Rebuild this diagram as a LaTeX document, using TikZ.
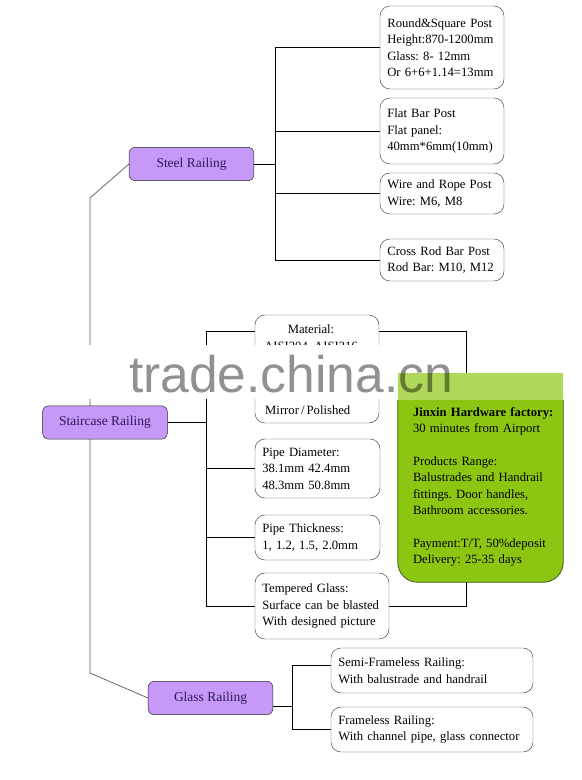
\documentclass[tikz,border=0pt]{standalone}
\usepackage{fontspec}
\setmainfont{Liberation Serif}
\setsansfont{Liberation Sans}
\usepackage{tikz}
\usetikzlibrary{positioning, calc, backgrounds}
\definecolor{RailPurple}{RGB}{198,152,248}
\definecolor{RailText}{RGB}{45,25,85}
\definecolor{FactoryGreen}{RGB}{141,198,18}
\definecolor{FactoryEdge}{RGB}{55,80,10}
\definecolor{BoxEdge}{RGB}{60,60,60}
\newcommand{\specfont}{\fontsize{10.8}{14}\selectfont\frenchspacing}

\begin{document}
\begin{tikzpicture}[x=0.03cm, y=-0.03cm,
    railbox/.style={draw=black!85, fill=RailPurple, rounded corners=0.18cm, text=RailText,
      font=\fontsize{11.5}{13}\selectfont, minimum width=3.74cm, minimum height=1cm},
    specbox/.style={draw=BoxEdge, fill=white, rounded corners=0.3cm, align=left,
      inner xsep=0.22cm, text width=#1, font=\specfont},
    link/.style={draw=black, line width=0.7pt},
    trunk/.style={draw=black!65, line width=0.6pt}]
  \useasboundingbox (0,0) rectangle (581,780);

  % Main categories
  \node[railbox] (steel) at (191.5,164) {Steel Railing};
  \node[railbox] (stair) at (105,422.5) {Staircase Railing};
  \node[railbox] (glass) at (210.5,698) {Glass Railing};

  % Steel railing posts
  \node[specbox=3.28cm, minimum height=2.49cm] (rsq) at (442,47.5) {Round\&Square Post\\Height:870-1200mm\\Glass: 8- 12mm\\Or 6+6+1.14=13mm};
  \node[specbox=3.28cm, minimum height=1.98cm] (flat) at (442,131) {Flat Bar Post\\Flat panel:\\40mm*6mm(10mm)};
  \node[specbox=3.28cm, minimum height=1.23cm] (wire) at (442,193.5) {Wire and Rope Post\\Wire: M6, M8};
  \node[specbox=3.28cm, minimum height=1.26cm] (cross) at (442,260) {Cross Rod Bar Post\\Rod Bar: M10, M12};

  % Staircase railing details
  \node[specbox=3.28cm, minimum height=3.24cm] (material) at (317,369) {};
  \node[font=\specfont, anchor=base] (mattitle) at (311,333) {Material:};
  \node[font=\specfont, anchor=base] (matgrade) at (311,350) {AISI304, AISI316};
  \node[font=\specfont, anchor=base west, inner xsep=0pt] (matfinish) at (265,414) {Mirror\,/\,Polished};
  \node[specbox=3.31cm, minimum height=1.77cm] (diameter) at (317.5,468.5) {Pipe Diameter:\\38.1mm 42.4mm\\48.3mm 50.8mm};
  \node[specbox=3.31cm, minimum height=1.35cm] (thick) at (317.5,537.5) {Pipe Thickness:\\1, 1.2, 1.5, 2.0mm};
  \node[specbox=3.58cm, minimum height=1.98cm] (tempered) at (322,606) {Tempered Glass:\\Surface can be blasted\\With designed picture};

  % Glass railing types
  \node[specbox=5.62cm, minimum height=1.35cm] (semi) at (432,670.5) {Semi-Frameless Railing:\\With balustrade and handrail};
  \node[specbox=5.62cm, minimum height=1.35cm] (frameless) at (432,729.5) {Frameless Railing:\\With channel pipe, glass connector};

  % Factory note
  \node[fill=FactoryGreen, rounded corners=0.6cm, align=left, inner xsep=0.45cm, text width=4.05cm,
    minimum height=6.27cm, font=\specfont] (factory) at (480.5,477.5)
    {\rule{0pt}{0.84cm}\mbox{\textbf{Jinxin Hardware factory:}}\\30 minutes from Airport\\[14pt]
     Products Range:\\Balustrades and Handrail\\fittings. Door handles,\\Bathroom accessories.\\[14pt]
     Payment:T/T, 50\%deposit\\Delivery: 25-35 days};
  \draw[FactoryEdge, line width=0.7pt, rounded corners=0.6cm] ([yshift=-0.81cm]factory.north west) -- (factory.south west)
    -- (factory.south east) -- ([yshift=-0.81cm]factory.north east);

  % Connectors
  \coordinate (trunktop) at (90,198);
  \coordinate (trunkbot) at (90,673);
  \coordinate (steelbus) at (275,0);
  \coordinate (stairbus) at (206,0);
  \coordinate (glassbus) at (292,0);
  \coordinate (bracket) at (466,0);
  \coordinate (matlink) at ([yshift=1.14cm]material.west);
  \coordinate (matout) at ([yshift=1.14cm]material.east);
  \coordinate (glasslink) at ([yshift=-0.24cm]glass.east);
  \coordinate (semilink) at ([yshift=0.16cm]semi.west);
  \begin{scope}[on background layer]
    \draw[trunk] (steel.west) -- (trunktop) -- (trunkbot) -- (glass.west);
    % steel branch
    \draw[link] (steel.east) -- (steelbus |- steel.east);
    \draw[link] (steelbus |- rsq.west) -- (steelbus |- cross.west);
    \foreach \post in {rsq,flat,wire,cross}
      \draw[link] (steelbus |- \post.west) -- (\post.west);
    % staircase branch
    \draw[link] (stair.east) -- (stairbus |- stair.east);
    \draw[link] (stairbus |- matlink) -- (stairbus |- tempered.west);
    \draw[link] (stairbus |- matlink) -- (matlink);
    \foreach \spec in {diameter,thick,tempered}
      \draw[link] (stairbus |- \spec.west) -- (\spec.west);
    \draw[link] (matout) -| (bracket |- factory.north);
    \draw[link] (tempered.east) -| (bracket |- factory.south);
    % glass branch
    \draw[link] (glasslink) -- (glassbus |- glasslink);
    \draw[link] (glassbus |- semilink) -- (glassbus |- frameless.west);
    \draw[link] (glassbus |- semilink) -- (semilink);
    \draw[link] (glassbus |- frameless.west) -- (frameless.west);
    % square top of the note
    \fill[FactoryGreen] (factory.north west) rectangle ([yshift=-1.2cm]factory.north east);
  \end{scope}

  % Watermark
  \fill[white] (75,345) rectangle (factory.north west |- 0,399);
  \fill[white, opacity=0.3] (factory.north west) rectangle ([yshift=-0.81cm]factory.north east);
  \node[font=\sffamily\fontsize{44}{44}\selectfont, text=black, text opacity=0.43, anchor=base, inner sep=0pt] (mark) at (291,392) {trade.china.cn};
\end{tikzpicture}
\end{document}
